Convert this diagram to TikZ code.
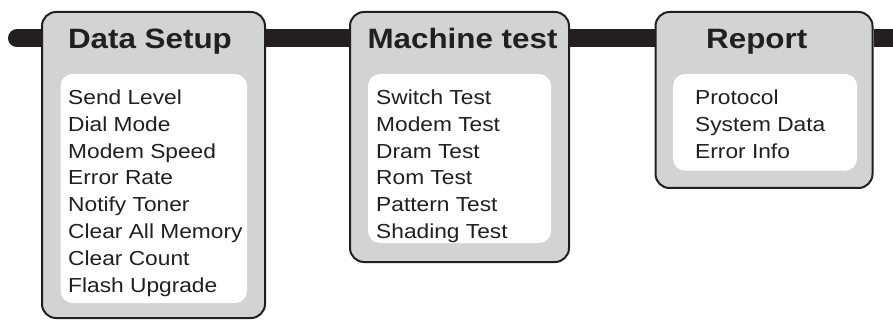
\documentclass[tikz,border=0pt]{standalone}
\usepackage{fontspec}
\setmainfont{Liberation Sans}
\newfontfamily\menufont[FakeStretch=1.12]{Liberation Sans}
\usetikzlibrary{positioning,backgrounds}
\definecolor{ink}{HTML}{231F20}
\definecolor{panelgray}{HTML}{D1D3D4}

\begin{document}
\begin{tikzpicture}[
  x=1pt,y=-1pt,
  panel/.style={draw=ink,line width=2pt,fill=panelgray,rounded corners=14pt,inner sep=0pt},
  listbox/.style={fill=white,rounded corners=12pt,inner sep=0pt},
  heading/.style={anchor=base,inner sep=0pt,text=ink,font=\menufont\bfseries\fontsize{28}{28}\selectfont},
  entries/.style={anchor=north west,align=left,inner sep=0pt,text=ink,font=\menufont\fontsize{20.3}{26.8}\selectfont},
  bar/.style={line width=18pt,ink}
]
\useasboundingbox (0,0) rectangle (893,320);
% panels
\node[panel,minimum width=223pt,minimum height=306pt] (setup) at (153.5,165) {};
\node[panel,minimum width=219pt,minimum height=250pt] (mtest) at (459.5,137) {};
\node[panel,minimum width=217pt,minimum height=176pt] (report) at (764,100) {};
% white lists
\node[listbox,minimum width=186.5pt,minimum height=229pt] (setuplist) at (153.75,188.5) {};
\node[listbox,minimum width=183pt,minimum height=169pt] (mtestlist) at (459.5,158.5) {};
\node[listbox,minimum width=184pt,minimum height=96.7pt] (reportlist) at (765,122.3) {};
% titles
\node[heading] (setuptitle) at (150,48.5) {Data Setup};
\node[heading] (mtesttitle) at (462.5,48.5) {Machine test};
\node[heading] (reporttitle) at (756.7,48.5) {Report};
% entries
\node[entries] (setupitems) at (68,89.5) {Send Level\\Dial Mode\\Modem Speed\\Error Rate\\Notify Toner\\Clear All Memory\\Clear Count\\Flash Upgrade};
\node[entries] (mtestitems) at (376,89.5) {Switch Test\\Modem Test\\Dram Test\\Rom Test\\Pattern Test\\Shading Test};
\node[entries] (reportitems) at (695,89.5) {Protocol\\System Data\\Error Info};
% the bar behind the panels
\coordinate (barL) at (17,38.3);
\coordinate (barR) at (893,38.3);
\begin{scope}[on background layer]
\draw[bar,line cap=round] (barL) -- (setup.west |- barL);
\draw[bar] (setup.east |- barL) -- (mtest.west |- barL);
\draw[bar] (mtest.east |- barL) -- (report.west |- barL);
\draw[bar] (report.east |- barL) -- (barR);
\end{scope}
\end{tikzpicture}
\end{document}
